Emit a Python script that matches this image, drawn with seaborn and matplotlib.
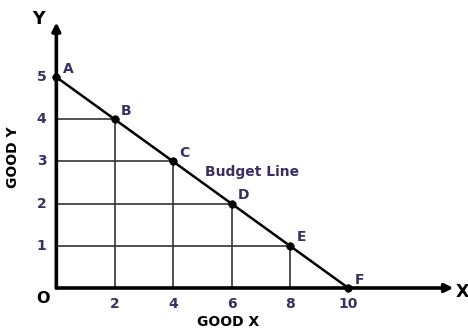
import matplotlib
matplotlib.use("Agg")
import matplotlib.pyplot as plt
import seaborn as sns
import pandas as pd

# Budget line: bundles of Good X and Good Y affordable with the same income
points = ["A", "B", "C", "D", "E", "F"]
good_x = [0, 2, 4, 6, 8, 10]
good_y = [5, 4, 3, 2, 1, 0]
x_ticks = [2, 4, 6, 8, 10]
y_ticks = [1, 2, 3, 4, 5]

df = pd.DataFrame({"point": points, "x": good_x, "y": good_y})

sns.set_theme(style="white")
plt.rcParams["font.family"] = ["DejaVu Sans"]

fig = plt.figure(figsize=(4.68, 3.31), dpi=100)
ax = fig.add_axes([0, 0, 1, 1])
ax.set_xlim(-1.93, 14.1)
ax.set_ylim(-1.02, 6.83)
ax.axis("off")

label_color = "#3b2e63"

# guide lines from each interior bundle to both axes
for px, py in zip(good_x, good_y):
    if px > 0 and py > 0:
        ax.plot([px, px], [0, py], color="#333333", lw=1.2, zorder=1)
        ax.plot([0, px], [py, py], color="#333333", lw=1.2, zorder=1)

# axes with arrow heads
ax.annotate("", xy=(13.6, 0), xytext=(0, 0),
            arrowprops=dict(arrowstyle="-|>", lw=2.6, color="black",
                            mutation_scale=12, shrinkA=0, shrinkB=0))
ax.annotate("", xy=(0, 6.3), xytext=(0, 0),
            arrowprops=dict(arrowstyle="-|>", lw=2.6, color="black",
                            mutation_scale=12, shrinkA=0, shrinkB=0))

# the budget line and its bundles
sns.lineplot(data=df, x="x", y="y", ax=ax, color="black", lw=1.8,
             sort=False, zorder=3)
sns.scatterplot(data=df, x="x", y="y", ax=ax, color="black", s=30,
                edgecolor="black", zorder=4, legend=False)

for name, px, py in zip(points, good_x, good_y):
    ax.text(px + 0.22, py + 0.2, name, color=label_color, fontsize=10,
            fontweight="bold", ha="left", va="center")

for t in x_ticks:
    ax.text(t, -0.38, str(t), color=label_color, fontsize=10,
            fontweight="bold", ha="center", va="center")
for t in y_ticks:
    ax.text(-0.5, t, str(t), color=label_color, fontsize=10,
            fontweight="bold", ha="center", va="center")

ax.text(-0.45, -0.24, "O", color="black", fontsize=11.5, fontweight="bold",
        ha="center", va="center")
ax.text(-0.62, 6.38, "Y", color="black", fontsize=12.5, fontweight="bold",
        ha="center", va="center")
ax.text(13.9, -0.1, "X", color="black", fontsize=12.5, fontweight="bold",
        ha="center", va="center")

ax.text(5.1, 2.75, "Budget Line", color=label_color, fontsize=10,
        fontweight="bold", ha="left", va="center")

ax.text(5.9, -0.8, "GOOD X", color="black", fontsize=10,
        fontweight="bold", ha="center", va="center")
ax.text(-1.5, 3.1, "GOOD Y", color="black", fontsize=10,
        fontweight="bold", ha="center", va="center", rotation=90)

fig.savefig("out.png", dpi=100, facecolor="white")
